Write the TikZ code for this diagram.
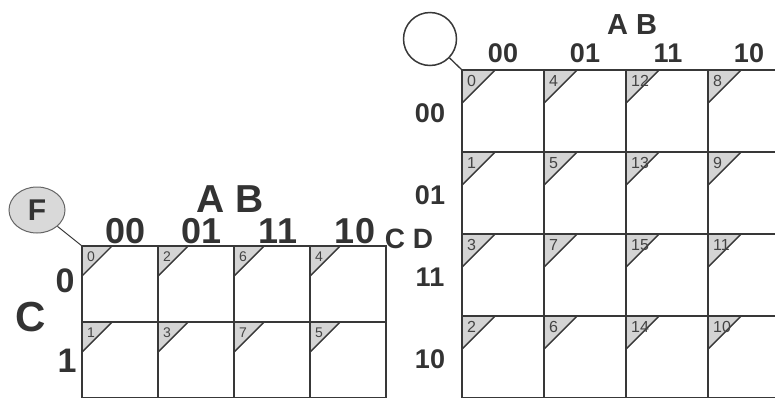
\documentclass[tikz,border=0pt]{standalone}
\usepackage{fontspec}
\setmainfont{Liberation Sans}
\usetikzlibrary{shapes.geometric}
\definecolor{gridc}{HTML}{383838}
\definecolor{txtc}{HTML}{333333}
\definecolor{numc}{HTML}{444444}
\definecolor{tric}{HTML}{D4D4D4}
\definecolor{fcirc}{HTML}{D9D9D9}
\begin{document}
\begin{tikzpicture}[x=1pt,y=-1pt,
  gridline/.style={draw=gridc, line width=2pt},
  cellL/.style={gridline, anchor=north west, minimum width=76pt, minimum height=76pt, inner sep=0pt, outer sep=0pt},
  cellR/.style={gridline, anchor=north west, minimum width=82pt, minimum height=82pt, inner sep=0pt, outer sep=0pt},
  lab/.style={text=txtc, inner sep=0pt, anchor=base},
  numL/.style={font=\fontsize{14}{14}\selectfont, text=numc, inner sep=0pt, anchor=north west},
  numR/.style={font=\fontsize{16}{16}\selectfont, text=numc, inner sep=0pt, anchor=north west},
  diag/.style={draw=gridc, line width=1.4pt},
  conn/.style={draw=gridc, line width=1pt},
]
\useasboundingbox (0,0) rectangle (775,397);
\clip (0,0) rectangle (775,397);

% ---------- left map (3 variables) ----------
\foreach \r in {0,1} \foreach \c in {0,...,3} {
  \node[cellL] (L\r\c) at ({82+76*\c},{246+76*\r}) {};
  \fill[tric] ([shift={(1,1)}]L\r\c.north west) -- ++(29,0) -- ++(-29,29) -- cycle;
  \draw[diag] ([xshift=30pt]L\r\c.north west) -- ([yshift=-30pt]L\r\c.north west);
}
\foreach \r in {0,1} \foreach \c in {0,...,3} {
  \node[cellL] at ({82+76*\c},{246+76*\r}) {};
}
\foreach \r/\c/\n in {0/0/0,0/1/2,0/2/6,0/3/4,1/0/1,1/1/3,1/2/7,1/3/5}
  \node[numL] (nL\r\c) at ([shift={(5,6)}]L\r\c.north west) {\n};

\node[ellipse, draw=gray!80!black, line width=1pt, fill=fcirc, minimum width=56pt, minimum height=46pt, inner sep=0pt] (F) at (37,210) {};
\node[lab, anchor=center, font=\bfseries\fontsize{30}{30}\selectfont] (Ft) at (F.center) {F};
\draw[conn] (F) -- (L00.north west);

\node[lab, font=\bfseries\fontsize{39}{39}\selectfont] (ABL) at (230,212) {A B};
\node[lab, font=\bfseries\fontsize{36}{36}\selectfont] (cL0) at (126,243) {00};
\node[lab, font=\bfseries\fontsize{36}{36}\selectfont] (cL1) at (202,243) {01};
\node[lab, font=\bfseries\fontsize{36}{36}\selectfont] (cL2) at (278,243) {11};
\node[lab, font=\bfseries\fontsize{36}{36}\selectfont] (cL3) at (355,243) {10};
\node[lab, font=\bfseries\fontsize{34}{34}\selectfont] (rL0) at (65,292) {0};
\node[lab, font=\bfseries\fontsize{34}{34}\selectfont] (rL1) at (67,372) {1};
\node[lab, font=\bfseries\fontsize{42}{42}\selectfont] (CL) at (31,331) {C};

% ---------- right map (4 variables) ----------
\foreach \r in {0,...,3} \foreach \c in {0,...,3} {
  \node[cellR] (R\r\c) at ({462+82*\c},{70+82*\r}) {};
  \fill[tric] ([shift={(1,1)}]R\r\c.north west) -- ++(32,0) -- ++(-32,32) -- cycle;
  \draw[diag] ([xshift=33pt]R\r\c.north west) -- ([yshift=-33pt]R\r\c.north west);
}
\foreach \r in {0,...,3} \foreach \c in {0,...,3} {
  \node[cellR] at ({462+82*\c},{70+82*\r}) {};
}
\foreach \r/\c/\n in {0/0/0,0/1/4,0/2/12,0/3/8,
                      1/0/1,1/1/5,1/2/13,1/3/9,
                      2/0/3,2/1/7,2/2/15,2/3/11,
                      3/0/2,3/1/6,3/2/14,3/3/10}
  \node[numR] (nR\r\c) at ([shift={(5,5)}]R\r\c.north west) {\n};

\node[circle, draw=gridc, line width=1.5pt, fill=white, minimum size=53pt, inner sep=0pt] (G) at (430,39) {};
\draw[conn, line width=1.3pt] (G) -- (R00.north west);

\node[lab, font=\bfseries\fontsize{29}{29}\selectfont] (ABR) at (632,34) {A B};
\node[lab, font=\bfseries\fontsize{27}{27}\selectfont] (cR0) at (503,62) {00};
\node[lab, font=\bfseries\fontsize{27}{27}\selectfont] (cR1) at (585,62) {01};
\node[lab, font=\bfseries\fontsize{27}{27}\selectfont] (cR2) at (668,62) {11};
\node[lab, font=\bfseries\fontsize{27}{27}\selectfont] (cR3) at (749,62) {10};
\node[lab, font=\bfseries\fontsize{27}{27}\selectfont] (rR0) at (430,122) {00};
\node[lab, font=\bfseries\fontsize{27}{27}\selectfont] (rR1) at (430,204) {01};
\node[lab, font=\bfseries\fontsize{27}{27}\selectfont] (rR2) at (430,286) {11};
\node[lab, font=\bfseries\fontsize{27}{27}\selectfont] (rR3) at (430,368) {10};
\node[lab, font=\bfseries\fontsize{28}{28}\selectfont] (CD) at (409,248) {C D};
\end{tikzpicture}
\end{document}
